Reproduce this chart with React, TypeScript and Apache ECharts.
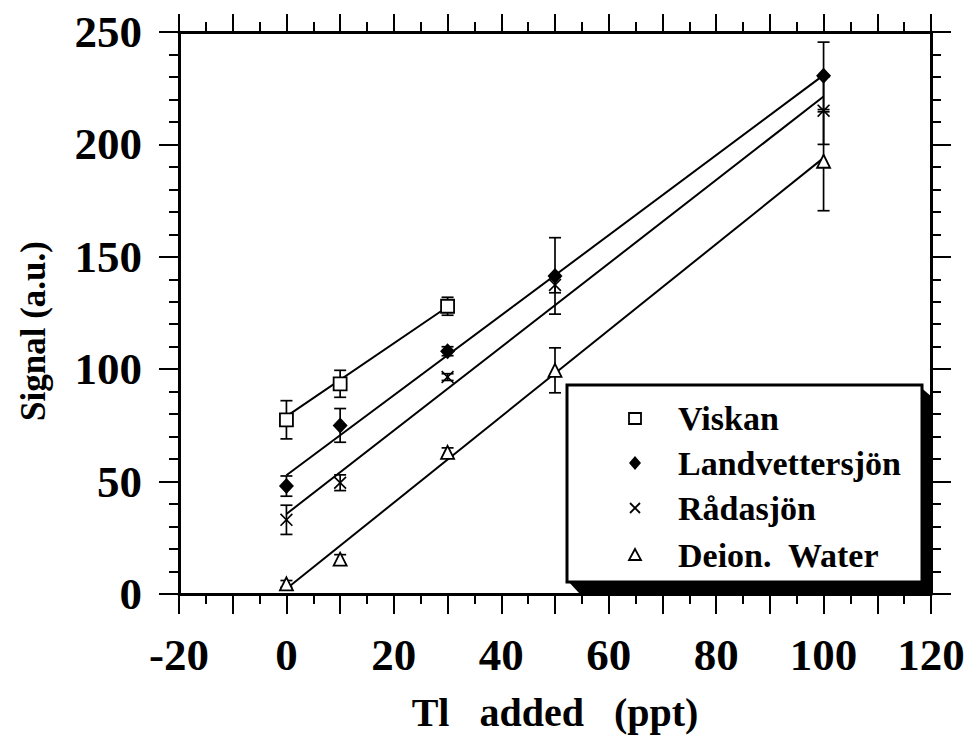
import React, { useEffect, useRef } from "react";
import * as echarts from "echarts";

// ---- Data ----
const seriesNames = ["Viskan", "Landvettersjön", "Rådasjön", "Deion.  Water"];

const viskanX = [0, 10, 30];
const viskanY = [77.5, 93.5, 128];
const viskanErr = [8.5, 6, 4];

const landX = [0, 10, 30, 50, 100];
const landY = [48, 75, 108, 141.5, 230.5];
const landErr = [4.5, 7.5, 2, 17, 15];

const radaX = [0, 10, 30, 50, 100];
const radaY = [33, 49.5, 96.5, 137.5, 215];
const radaErr = [6.5, 3.5, 1.5, 3.5, 15];

const deionX = [0, 10, 30, 50, 100];
const deionY = [4.5, 15.5, 63, 99.5, 192.5];
const deionErr = [1.5, 2, 2, 10, 22];

// fitted regression lines: start / end points
const fitX0 = [0, 0, 0, 0];
const fitY0 = [79, 52.8, 35.6, 2.3];
const fitX1 = [30, 100, 100, 100];
const fitY1 = [127.8, 230.8, 221.3, 194];

const xMin = -20;
const xMax = 120;
const yMin = 0;
const yMax = 250;

const FONT = "'Liberation Serif', 'Times New Roman', serif";
const CROSS = "path://M0,0.9L0.9,0L5,4.1L9.1,0L10,0.9L5.9,5L10,9.1L9.1,10L5,5.9L0.9,10L0,9.1L4.1,5Z";

const symbols = ["rect", "diamond", CROSS, "triangle"];
const symbolSizes = [[13, 13], [15, 16], [13, 13], [13, 13]];
const symbolFills = ["#fff", "#000", "#000", "#fff"];

export default function App() {
  const ref = useRef<HTMLDivElement>(null);
  useEffect(() => {
    if (!ref.current) return;
    const chart = echarts.init(ref.current, null, { renderer: "svg" });

    const xs = [viskanX, landX, radaX, deionX];
    const ys = [viskanY, landY, radaY, deionY];
    const es = [viskanErr, landErr, radaErr, deionErr];

    const series: any[] = [];
    // fit lines
    for (let i = 0; i < 4; i++) {
      series.push({
        type: "line",
        name: seriesNames[i] + " fit",
        data: [
          [fitX0[i], fitY0[i]],
          [fitX1[i], fitY1[i]],
        ],
        symbol: "none",
        lineStyle: { color: "#000", width: 2 },
        z: 2,
        silent: true,
      });
    }
    // error bars
    for (let i = 0; i < 4; i++) {
      series.push({
        type: "custom",
        name: seriesNames[i] + " err",
        data: xs[i].map((x, k) => [x, ys[i][k] - es[i][k], ys[i][k] + es[i][k]]),
        encode: { x: 0, y: [1, 2] },
        z: 3,
        renderItem: (params: any, api: any) => {
          const x = api.value(0);
          const lo = api.coord([x, api.value(1)]);
          const hi = api.coord([x, api.value(2)]);
          const w = 6;
          const style = { stroke: "#000", lineWidth: 1.7, fill: "none" };
          return {
            type: "group",
            children: [
              { type: "line", shape: { x1: lo[0], y1: lo[1], x2: hi[0], y2: hi[1] }, style },
              { type: "line", shape: { x1: lo[0] - w, y1: lo[1], x2: lo[0] + w, y2: lo[1] }, style },
              { type: "line", shape: { x1: hi[0] - w, y1: hi[1], x2: hi[0] + w, y2: hi[1] }, style },
            ],
          };
        },
      });
    }
    // markers
    for (let i = 0; i < 4; i++) {
      series.push({
        type: "scatter",
        name: seriesNames[i],
        data: xs[i].map((x, k) => [x, ys[i][k]]),
        symbol: symbols[i],
        symbolSize: symbolSizes[i],
        itemStyle: {
          color: symbolFills[i],
          borderColor: "#000",
          borderWidth: i === 0 || i === 3 ? 1.8 : 0,
          opacity: 1,
        },
        z: 5,
      });
    }

    const axisLine = { show: true, onZero: false, lineStyle: { color: "#000", width: 3 } };
    const xLabelFmt = (v: number) => (v % 20 === 0 ? String(v) : "");
    const labelStyle = {
      color: "#000",
      fontFamily: FONT,
      fontWeight: "bold" as const,
      fontSize: 45,
    };

    // legend drawn as graphic
    const lgX = 567, lgY = 385, lgW = 355, lgH = 197;
    const rowY = [418, 463, 508, 555];
    const symX = 635, txtX = 678;
    const legendChildren: any[] = [
      {
        type: "polygon",
        shape: {
          points: [
            [lgX + lgW - 4, lgY],
            [lgX + lgW + 10, lgY + 12],
            [lgX + lgW + 10, lgY + lgH + 11],
            [lgX + 12, lgY + lgH + 11],
            [lgX, lgY + lgH - 2],
          ],
        },
        style: { fill: "#000" },
      },
      {
        type: "rect",
        shape: { x: lgX, y: lgY, width: lgW, height: lgH },
        style: { fill: "#fff", stroke: "#000", lineWidth: 3 },
      },
    ];
    // legend symbols
    legendChildren.push({
      type: "rect",
      shape: { x: symX - 6, y: rowY[0] - 5, width: 12, height: 11 },
      style: { fill: "#fff", stroke: "#000", lineWidth: 1.8 },
    });
    legendChildren.push({
      type: "polygon",
      shape: { points: [[symX, rowY[1] - 7], [symX + 6, rowY[1]], [symX, rowY[1] + 7], [symX - 6, rowY[1]]] },
      style: { fill: "#000" },
    });
    legendChildren.push({
      type: "line",
      shape: { x1: symX - 5, y1: rowY[2] - 5, x2: symX + 5, y2: rowY[2] + 5 },
      style: { stroke: "#000", lineWidth: 1.8 },
    });
    legendChildren.push({
      type: "line",
      shape: { x1: symX - 5, y1: rowY[2] + 5, x2: symX + 5, y2: rowY[2] - 5 },
      style: { stroke: "#000", lineWidth: 1.8 },
    });
    legendChildren.push({
      type: "polygon",
      shape: { points: [[symX, rowY[3] - 6], [symX + 6, rowY[3] + 5], [symX - 6, rowY[3] + 5]] },
      style: { fill: "#fff", stroke: "#000", lineWidth: 1.8 },
    });
    for (let i = 0; i < 4; i++) {
      legendChildren.push({
        type: "text",
        x: txtX,
        y: rowY[i],
        style: {
          text: seriesNames[i],
          fontFamily: FONT,
          fontWeight: "bold",
          fontSize: 34,
          fill: "#000",
          textAlign: "left",
          textVerticalAlign: "middle",
        },
      });
    }

    chart.setOption({
      animation: false,
      backgroundColor: "#fff",
      grid: { left: 179, right: 39, top: 32, bottom: 137, containLabel: false },
      xAxis: [
        {
          type: "value",
          position: "bottom",
          min: xMin,
          max: xMax,
          interval: 10,
          axisLine,
          axisTick: { show: true, inside: false, length: 20, lineStyle: { color: "#000", width: 2 } },
          minorTick: { show: true, splitNumber: 2, length: 10, lineStyle: { color: "#000", width: 2 } },
          splitLine: { show: false },
          axisLabel: { ...labelStyle, margin: 38, formatter: xLabelFmt },
          name: "Tl   added   (ppt)",
          nameLocation: "middle",
          nameGap: 98,
          nameTextStyle: { color: "#000", fontFamily: FONT, fontWeight: "bold", fontSize: 40 },
        },
        {
          type: "value",
          position: "top",
          min: xMin,
          max: xMax,
          interval: 10,
          axisLine,
          axisTick: { show: true, inside: false, length: 18, lineStyle: { color: "#000", width: 2 } },
          minorTick: { show: true, splitNumber: 2, length: 10, lineStyle: { color: "#000", width: 2 } },
          splitLine: { show: false },
          axisLabel: { show: false },
        },
      ],
      yAxis: [
        {
          type: "value",
          position: "left",
          min: yMin,
          max: yMax,
          interval: 50,
          axisLine,
          axisTick: { show: true, inside: false, length: 20, lineStyle: { color: "#000", width: 2 } },
          minorTick: { show: true, splitNumber: 5, length: 10, lineStyle: { color: "#000", width: 2 } },
          splitLine: { show: false },
          axisLabel: { ...labelStyle, margin: 37 },
        },
        {
          type: "value",
          position: "right",
          min: yMin,
          max: yMax,
          interval: 50,
          axisLine,
          axisTick: { show: true, inside: false, length: 20, lineStyle: { color: "#000", width: 2 } },
          minorTick: { show: true, splitNumber: 5, length: 10, lineStyle: { color: "#000", width: 2 } },
          splitLine: { show: false },
          axisLabel: { show: false },
        },
      ],
      graphic: [
        {
          type: "text",
          x: 33,
          y: 331,
          rotation: Math.PI / 2,
          style: {
            text: "Signal (a.u.)",
            fontFamily: FONT,
            fontWeight: "bold",
            fontSize: 35,
            fill: "#000",
            textAlign: "center",
            textVerticalAlign: "middle",
          },
        },
        { type: "group", z: 100, children: legendChildren },
      ],
      series,
    });
    return () => chart.dispose();
  }, []);
  return (
    <div
      ref={ref}
      style={{ position: "absolute", left: 0, top: 0, width: 970, height: 737, background: "#fff" }}
    />
  );
}
